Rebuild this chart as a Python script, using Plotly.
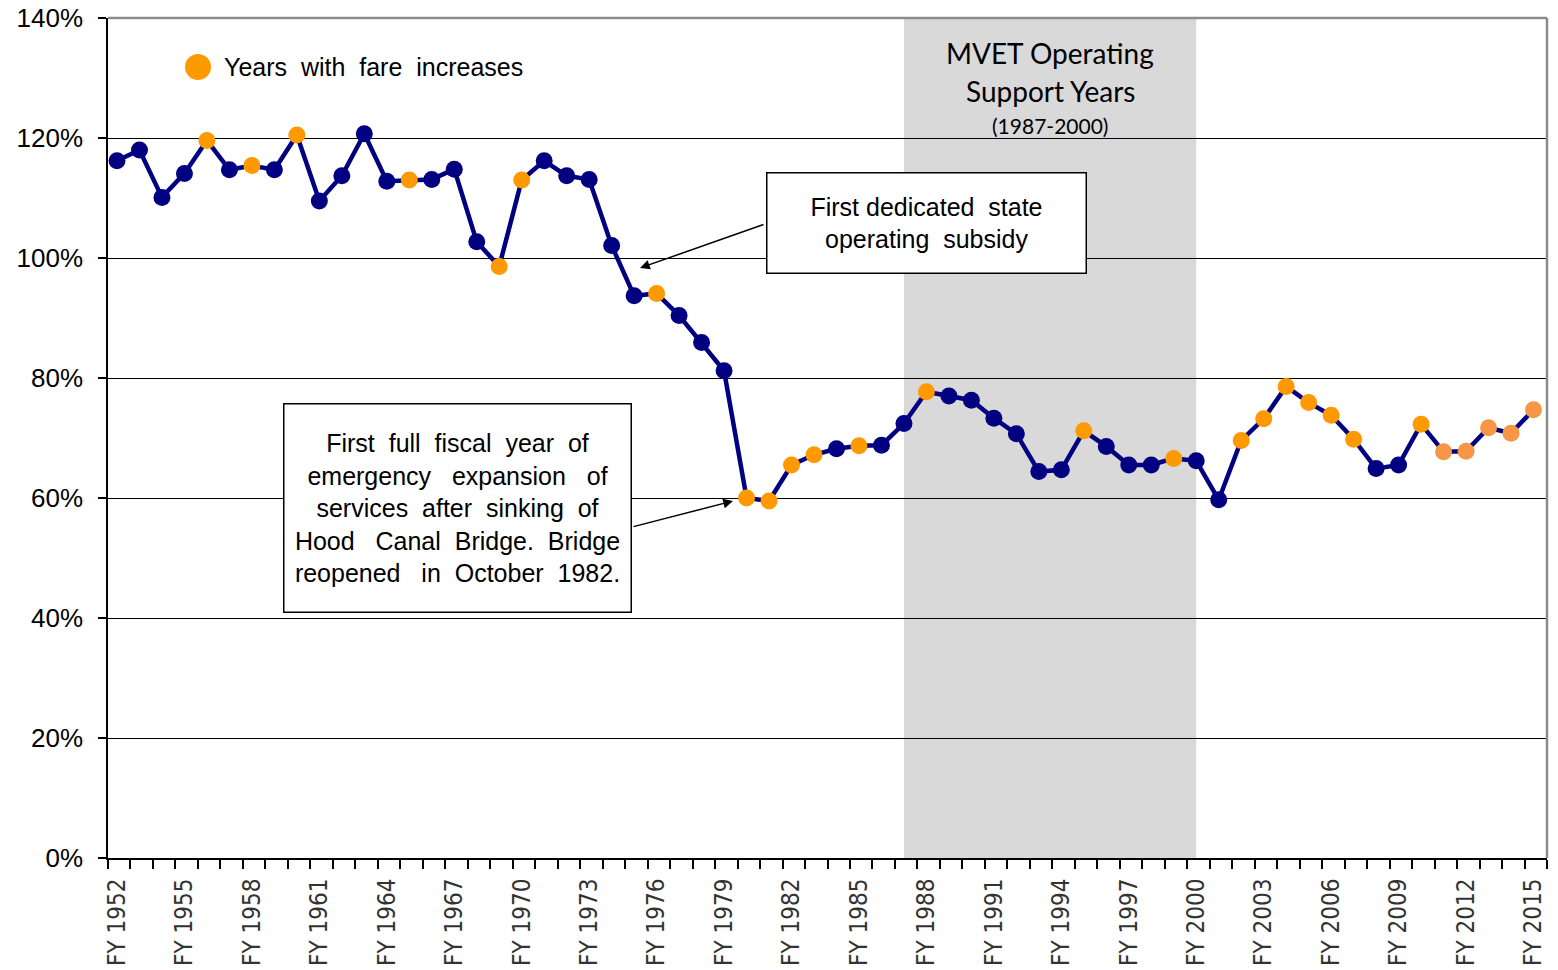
import plotly.graph_objects as go

# ---- data ----
years = list(range(1952, 2016))
recovery_pct = [116.2, 118.0, 110.1, 114.1, 119.6, 114.7, 115.4, 114.7, 120.5, 109.5,
                113.7, 120.7, 112.8, 113.0, 113.1, 114.8, 102.7, 98.6, 113.0, 116.2,
                113.7, 113.1, 102.1, 93.7, 94.1, 90.4, 85.9, 81.2, 60.0, 59.5,
                65.5, 67.2, 68.2, 68.7, 68.8, 72.4, 77.7, 77.0, 76.3, 73.3,
                70.7, 64.4, 64.7, 71.2, 68.6, 65.5, 65.5, 66.6, 66.2, 59.7,
                69.6, 73.2, 78.6, 75.9, 73.8, 69.8, 64.9, 65.5, 72.3, 67.7,
                67.8, 71.7, 70.8, 74.7]
fare_increase_years = [1956, 1958, 1960, 1965, 1969, 1970, 1976, 1980, 1981, 1982,
                       1983, 1985, 1988, 1995, 1999, 2002, 2003, 2004, 2005, 2006,
                       2007, 2010]
recent_fare_increase_years = [2011, 2012, 2013, 2014, 2015]
tick_years = years[::3]
tick_labels = [f"FY {y}" for y in tick_years]
mvet_start, mvet_end = 1987, 2000

NAVY = "#000080"
ORANGE = "#FF9900"
LIGHT_ORANGE = "#F79646"

colors = []
for y in years:
    if y in recent_fare_increase_years:
        colors.append(LIGHT_ORANGE)
    elif y in fare_increase_years:
        colors.append(ORANGE)
    else:
        colors.append(NAVY)

fig = go.Figure()
fig.add_trace(go.Scatter(
    x=years, y=recovery_pct, mode="lines+markers",
    line=dict(color=NAVY, width=4.5),
    marker=dict(color=colors, size=17, line=dict(width=0)),
    showlegend=False, hoverinfo="x+y",
))

ARIAL = "Liberation Sans, Arial, sans-serif"
CAL = "Lato, Carlito, Calibri, sans-serif"

L, R, T, B = 108, 11, 18, 112
W, H = 1558, 970
pw, ph = W - L - R, H - T - B
X0 = 1951.6
XSPAN = 64.0

NB = "\u00a0"


def px(xp):
    return (xp - L) / pw


def py(yp):
    return (T + ph - yp) / ph


def dx(xp):
    return X0 + (xp - L) / (pw / XSPAN)


def dy(yp):
    return (T + ph - yp) / (ph / 140)


shapes = [
    # MVET shading
    dict(type="rect", xref="x", yref="paper", x0=mvet_start, x1=mvet_end, y0=0, y1=1,
         fillcolor="#D9D9D9", line=dict(width=0), layer="between"),
    # top & right border (gray)
    dict(type="line", xref="paper", yref="paper", x0=0, x1=1, y0=1, y1=1,
         line=dict(color="#8C8C8C", width=2.5), layer="above"),
    dict(type="line", xref="paper", yref="paper", x0=1, x1=1, y0=0, y1=1,
         line=dict(color="#8C8C8C", width=2.5), layer="above"),
    # legend marker
    dict(type="circle", xref="paper", yref="paper", xsizemode="pixel", ysizemode="pixel",
         xanchor=px(198), yanchor=py(67), x0=-13, x1=13, y0=-13, y1=13,
         fillcolor=ORANGE, line=dict(width=0)),
]

box2_lines = [
    f"First{NB} full{NB} fiscal{NB} year{NB} of",
    f"emergency{NB}{NB} expansion{NB}{NB} of",
    f"services{NB} after{NB} sinking{NB} of",
    f"Hood{NB}{NB} Canal{NB} Bridge.{NB} Bridge",
    f"reopened{NB}{NB} in{NB} October{NB} 1982.",
]

annotations = [
    dict(xref="paper", yref="paper", x=px(222), y=py(67), xanchor="left", yanchor="middle",
         text=f"Years{NB} with{NB} fare{NB} increases", showarrow=False,
         font=dict(family=ARIAL, size=25, color="black")),
    dict(xref="paper", yref="paper", x=px(1050), y=py(53), xanchor="center", yanchor="middle",
         text="MVET Operating", showarrow=False, font=dict(family=CAL, size=28, color="black")),
    dict(xref="paper", yref="paper", x=px(1050), y=py(91), xanchor="center", yanchor="middle",
         text="Support Years", showarrow=False, font=dict(family=CAL, size=28, color="black")),
    dict(xref="paper", yref="paper", x=px(1050), y=py(125), xanchor="center", yanchor="middle",
         text="(1987-2000)", showarrow=False, font=dict(family=CAL, size=21, color="black")),
    # arrows
    dict(xref="x", yref="y", axref="x", ayref="y",
         x=dx(640), y=dy(268), ax=dx(765), ay=dy(224),
         text="", showarrow=True, arrowhead=2, arrowsize=1.3, arrowwidth=1.5, arrowcolor="black",
         standoff=0, startstandoff=0),
    dict(xref="x", yref="y", axref="x", ayref="y",
         x=dx(733), y=dy(501), ax=dx(632), ay=dy(527),
         text="", showarrow=True, arrowhead=2, arrowsize=1.3, arrowwidth=1.5, arrowcolor="black",
         standoff=0, startstandoff=0),
    # boxes
    dict(xref="paper", yref="paper", x=px(926), y=py(222.5), xanchor="center", yanchor="middle",
         text=f"First dedicated{NB} state<br>operating{NB} subsidy", showarrow=False,
         width=318, height=99, bgcolor="white", bordercolor="black", borderwidth=1.5, borderpad=0,
         font=dict(family=ARIAL, size=25, color="black"), align="center", valign="middle"),
    dict(xref="paper", yref="paper", x=px(457), y=py(508.5), xanchor="center", yanchor="middle",
         text="<br>".join(box2_lines),
         showarrow=False,
         width=346, height=207, bgcolor="white", bordercolor="black", borderwidth=1.5, borderpad=0,
         font=dict(family=ARIAL, size=25, color="black"), align="center", valign="middle"),
]

fig.update_layout(
    width=W, height=H,
    margin=dict(l=L, r=R, t=T, b=B, pad=0, autoexpand=False),
    paper_bgcolor="white", plot_bgcolor="white",
    shapes=shapes, annotations=annotations,
    showlegend=False,
)
fig.update_xaxes(
    range=[X0, X0 + XSPAN], tickmode="array", tickvals=tick_years, ticktext=tick_labels,
    tickangle=-90, ticks="", showgrid=False, zeroline=False, automargin=False,
    showline=True, linecolor="black", linewidth=2,
    tickfont=dict(family="Liberation Sans Narrow, Arial Narrow, DejaVu Sans Condensed, sans-serif",
                  size=24, color="#333333"),
    ticklabelstandoff=9,
    minor=dict(tickmode="linear", tick0=X0, dtick=1, ticks="outside", ticklen=9,
               tickwidth=1.5, tickcolor="black", showgrid=False),
)
fig.update_yaxes(
    range=[0, 140], tickmode="linear", tick0=0, dtick=20, ticksuffix="%",
    ticks="outside", ticklen=8, tickwidth=1.5, tickcolor="black",
    showgrid=True, gridcolor="black", gridwidth=1.3, zeroline=False, automargin=False,
    showline=True, linecolor="black", linewidth=1.5,
    tickfont=dict(family=ARIAL, size=26, color="black"),
    ticklabelstandoff=10,
)

fig.write_html("out.html", config={"displayModeBar": False},
               post_script="document.body.style.margin='0';document.body.style.overflow='hidden';")
